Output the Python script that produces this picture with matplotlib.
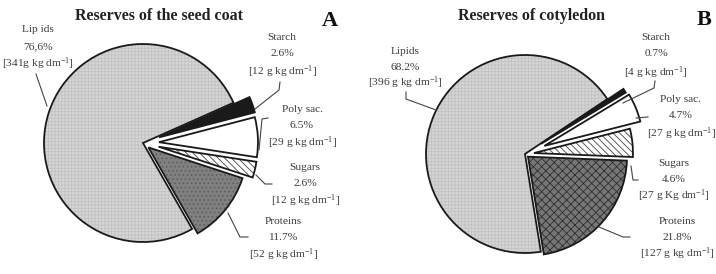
import matplotlib
matplotlib.use("Agg")
import matplotlib.pyplot as plt

plt.rcParams['font.family'] = ['Liberation Serif', 'DejaVu Serif']
plt.rcParams['mathtext.default'] = 'regular'
plt.rcParams['hatch.linewidth'] = 0.6

# ---------------- data ----------------
categories = ["Starch", "Polysac.", "Sugars", "Proteins", "Lipids"]
seed_coat_pct = [2.6, 6.5, 2.6, 11.7, 76.6]
seed_coat_gkg = [12, 29, 12, 52, 341]
cotyledon_pct = [0.7, 4.7, 4.6, 21.8, 68.2]
cotyledon_gkg = [4, 27, 27, 127, 396]
title_a = "Reserves of the seed coat"
title_b = "Reserves of cotyledon"

labels_a = [
    ["Starch", "2.6%", "[12 g kg dm$^{-1}$]"],
    ["Poly sac.", "6.5%", "[29 g kg dm$^{-1}$]"],
    ["Sugars", "2.6%", "[12 g kg dm$^{-1}$]"],
    ["Proteins", "11.7%", "[52 g kg dm$^{-1}$]"],
    ["Lip ids", "76,6%", "[341g kg dm$^{-1}$]"],
]
labels_b = [
    ["Starch", "0.7%", "[4 g kg dm$^{-1}$]"],
    ["Poly sac.", "4.7%", "[27 g kg dm$^{-1}$]"],
    ["Sugars", "4.6%", "[27 g Kg dm$^{-1}$]"],
    ["Proteins", "21.8%", "[127 g kg dm$^{-1}$]"],
    ["Lipids", "68.2%", "[396 g kg dm$^{-1}$]"],
]

# ---------------- layout (pixels, image coords y down) ----------------
W, H = 716, 274
def Y(y):
    return H - y

fig = plt.figure(figsize=(W / 100, H / 100), dpi=100)
ax = fig.add_axes([0, 0, 1, 1])

R = 99
styles_a = [
    dict(fc='#1a1a1a', hatch=None, hc='#1a1a1a'),
    dict(fc='white', hatch=None, hc='white'),
    dict(fc='white', hatch='\\\\\\\\\\', hc='#444444'),
    dict(fc='#808080', hatch='....', hc='#5a5a5a'),
    dict(fc='#d6d6d6', hatch='+++++', hc='#c2c2c2'),
]
styles_b = [
    dict(fc='#1a1a1a', hatch=None, hc='#1a1a1a'),
    dict(fc='white', hatch=None, hc='white'),
    dict(fc='white', hatch='\\\\\\\\\\', hc='#444444'),
    dict(fc='#767676', hatch='xxxx', hc='#2e2e2e'),
    dict(fc='#d6d6d6', hatch='+++++', hc='#c2c2c2'),
]


def draw_pie(vals, center, start, explode, styles):
    wedges, _ = ax.pie(vals, explode=explode, startangle=start, counterclock=False,
                       center=center, radius=R, normalize=True)
    for w, s in zip(wedges, styles):
        w.set_facecolor(s['fc'])
        if s['hatch']:
            w.set_hatch(s['hatch'])
        w.set_edgecolor(s['hc'])
        w.set_linewidth(0)
    ax.pie(vals, explode=explode, startangle=start, counterclock=False,
           center=center, radius=R, normalize=True,
           wedgeprops=dict(fill=False, edgecolor='#1a1a1a', linewidth=1.3))


draw_pie(seed_coat_pct, (143, Y(143)), 24, [17, 16, 16, 7, 0], styles_a)
draw_pie(cotyledon_pct, (525, Y(154)), 33.7, [19, 21, 9, 4, 0], styles_b)

ax.set_xlim(0, W)
ax.set_ylim(0, H)
ax.set_aspect('equal')
ax.axis('off')

# titles
ax.text(159, Y(16), title_a, ha='center', va='center', fontsize=11.5,
        fontweight='bold', color='#222222')
ax.text(532, Y(16), title_b, ha='center', va='center', fontsize=11.5,
        fontweight='bold', color='#222222')
ax.text(330, Y(21), "A", ha='center', va='center', fontsize=16,
        fontweight='bold', color='#111111')
ax.text(704, Y(20), "B", ha='center', va='center', fontsize=16,
        fontweight='bold', color='#111111')

# label positions: (center x, [y line1, y line2, y line3])
pos_a = [(282, [37, 54, 72]), (302, [109, 126, 143]), (305, [168, 184, 201]),
         (283, [221, 238, 255]), (38, [30, 47, 64])]
pos_b = [(656, [38, 54, 73]), (681, [99, 116, 134]), (674, [164, 180, 196]),
         (677, [221, 238, 254]), (405, [52, 68, 83])]

for labs, poss in ((labels_a, pos_a), (labels_b, pos_b)):
    for lab, (x, ys) in zip(labs, poss):
        for line, y in zip(lab, ys):
            ax.text(x, Y(y), line, ha='center', va='center', fontsize=8.2,
                    color='#3a3a3a')

# leader lines
leaders = [
    [(36, 74), (47, 106)],
    [(280, 82), (279, 90), (255, 109)],
    [(268, 118), (262, 119), (259, 150)],
    [(256, 175), (265, 184), (272, 184)],
    [(228, 213), (240, 237), (248, 237)],
    [(406, 92), (406, 99), (436, 110)],
    [(655, 81), (654, 88), (623, 103)],
    [(636, 118), (648, 117)],
    [(631, 166), (633, 180), (638, 180)],
    [(599, 227), (623, 237), (630, 237)],
]
for pts in leaders:
    ax.plot([p[0] for p in pts], [Y(p[1]) for p in pts], color='#444444',
            linewidth=0.8)

fig.savefig("out.png", dpi=100)
